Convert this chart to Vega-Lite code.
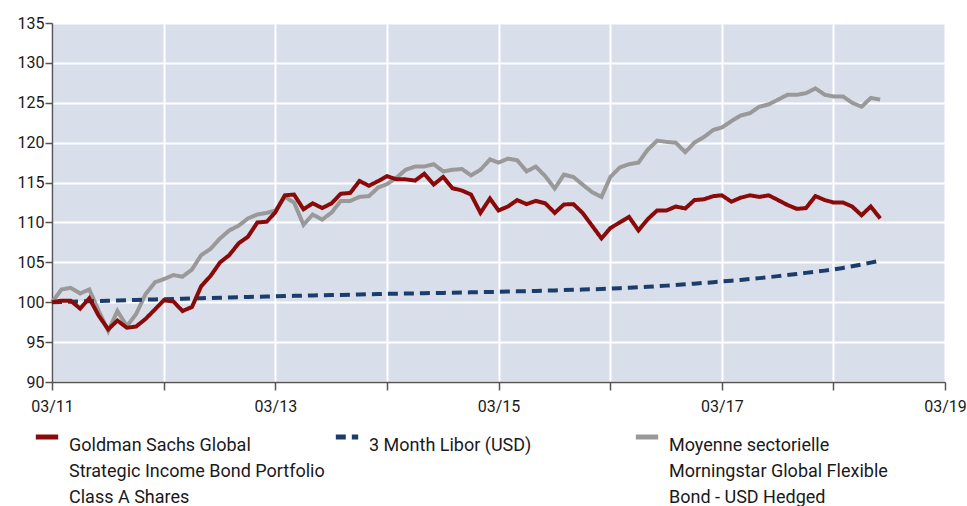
{
  "$schema": "https://vega.github.io/schema/vega-lite/v6.json",
  "width": 893,
  "height": 359,
  "autosize": {"type": "none"},
  "padding": {"left": 52, "top": 23, "right": 22, "bottom": 124},
  "background": "white",
  "config": {
    "view": {"fill": "#d9dfea", "stroke": null},
    "font": "Liberation Sans Narrow, Roboto, sans-serif",
    "axis": {
      "grid": true,
      "gridColor": "#ffffff",
      "gridWidth": 2,
      "domainColor": "#555555",
      "domainWidth": 1.5,
      "tickColor": "#555555",
      "tickWidth": 1.5,
      "tickSize": 8,
      "labelFontSize": 16,
      "labelColor": "#1a1a1a",
      "title": null
    },
    "style": {"guide-label": {"lineHeight": 26}}
  },
  "data": {
    "values": [
      {"d": "2011-03-01", "gs": 100.0, "lib": 100.00, "avg": 100.0},
      {"d": "2011-04-01", "gs": 100.2, "lib": 100.03, "avg": 101.6},
      {"d": "2011-05-01", "gs": 100.2, "lib": 100.06, "avg": 101.8},
      {"d": "2011-06-01", "gs": 99.2, "lib": 100.10, "avg": 101.1},
      {"d": "2011-07-01", "gs": 100.5, "lib": 100.13, "avg": 101.6},
      {"d": "2011-08-01", "gs": 98.3, "lib": 100.16, "avg": 98.9},
      {"d": "2011-09-01", "gs": 96.6, "lib": 100.19, "avg": 96.4},
      {"d": "2011-10-01", "gs": 97.7, "lib": 100.22, "avg": 98.9},
      {"d": "2011-11-01", "gs": 96.8, "lib": 100.25, "avg": 97.0},
      {"d": "2011-12-01", "gs": 96.95, "lib": 100.29, "avg": 98.5},
      {"d": "2012-01-01", "gs": 97.9, "lib": 100.32, "avg": 101.0},
      {"d": "2012-02-01", "gs": 99.1, "lib": 100.35, "avg": 102.5},
      {"d": "2012-03-01", "gs": 100.25, "lib": 100.38, "avg": 102.9},
      {"d": "2012-04-01", "gs": 100.1, "lib": 100.41, "avg": 103.4},
      {"d": "2012-05-01", "gs": 98.9, "lib": 100.44, "avg": 103.2},
      {"d": "2012-06-01", "gs": 99.4, "lib": 100.47, "avg": 104.1},
      {"d": "2012-07-01", "gs": 102.0, "lib": 100.50, "avg": 105.9},
      {"d": "2012-08-01", "gs": 103.3, "lib": 100.53, "avg": 106.7},
      {"d": "2012-09-01", "gs": 105.0, "lib": 100.56, "avg": 108.0},
      {"d": "2012-10-01", "gs": 105.9, "lib": 100.60, "avg": 109.0},
      {"d": "2012-11-01", "gs": 107.4, "lib": 100.63, "avg": 109.6},
      {"d": "2012-12-01", "gs": 108.2, "lib": 100.66, "avg": 110.5},
      {"d": "2013-01-01", "gs": 110.0, "lib": 100.69, "avg": 111.0},
      {"d": "2013-02-01", "gs": 110.1, "lib": 100.72, "avg": 111.2},
      {"d": "2013-03-01", "gs": 111.3, "lib": 100.75, "avg": 111.5},
      {"d": "2013-04-01", "gs": 113.4, "lib": 100.77, "avg": 113.2},
      {"d": "2013-05-01", "gs": 113.5, "lib": 100.80, "avg": 112.5},
      {"d": "2013-06-01", "gs": 111.65, "lib": 100.82, "avg": 109.7},
      {"d": "2013-07-01", "gs": 112.4, "lib": 100.85, "avg": 111.0},
      {"d": "2013-08-01", "gs": 111.8, "lib": 100.87, "avg": 110.35},
      {"d": "2013-09-01", "gs": 112.4, "lib": 100.90, "avg": 111.25},
      {"d": "2013-10-01", "gs": 113.6, "lib": 100.92, "avg": 112.7},
      {"d": "2013-11-01", "gs": 113.7, "lib": 100.95, "avg": 112.7},
      {"d": "2013-12-01", "gs": 115.2, "lib": 100.97, "avg": 113.2},
      {"d": "2014-01-01", "gs": 114.6, "lib": 101.00, "avg": 113.3},
      {"d": "2014-02-01", "gs": 115.2, "lib": 101.02, "avg": 114.4},
      {"d": "2014-03-01", "gs": 115.8, "lib": 101.05, "avg": 114.8},
      {"d": "2014-04-01", "gs": 115.4, "lib": 101.07, "avg": 115.6},
      {"d": "2014-05-01", "gs": 115.4, "lib": 101.09, "avg": 116.6},
      {"d": "2014-06-01", "gs": 115.25, "lib": 101.11, "avg": 117.0},
      {"d": "2014-07-01", "gs": 116.1, "lib": 101.13, "avg": 117.0},
      {"d": "2014-08-01", "gs": 114.75, "lib": 101.15, "avg": 117.3},
      {"d": "2014-09-01", "gs": 115.7, "lib": 101.17, "avg": 116.4},
      {"d": "2014-10-01", "gs": 114.3, "lib": 101.20, "avg": 116.6},
      {"d": "2014-11-01", "gs": 114.0, "lib": 101.22, "avg": 116.7},
      {"d": "2014-12-01", "gs": 113.5, "lib": 101.24, "avg": 115.9},
      {"d": "2015-01-01", "gs": 111.2, "lib": 101.26, "avg": 116.6},
      {"d": "2015-02-01", "gs": 113.0, "lib": 101.28, "avg": 117.9},
      {"d": "2015-03-01", "gs": 111.5, "lib": 101.30, "avg": 117.5},
      {"d": "2015-04-01", "gs": 112.0, "lib": 101.33, "avg": 118.0},
      {"d": "2015-05-01", "gs": 112.8, "lib": 101.36, "avg": 117.8},
      {"d": "2015-06-01", "gs": 112.3, "lib": 101.39, "avg": 116.4},
      {"d": "2015-07-01", "gs": 112.7, "lib": 101.42, "avg": 117.0},
      {"d": "2015-08-01", "gs": 112.4, "lib": 101.45, "avg": 115.8},
      {"d": "2015-09-01", "gs": 111.2, "lib": 101.48, "avg": 114.25},
      {"d": "2015-10-01", "gs": 112.25, "lib": 101.52, "avg": 116.0},
      {"d": "2015-11-01", "gs": 112.3, "lib": 101.55, "avg": 115.7},
      {"d": "2015-12-01", "gs": 111.2, "lib": 101.59, "avg": 114.75},
      {"d": "2016-01-01", "gs": 109.6, "lib": 101.62, "avg": 113.8},
      {"d": "2016-02-01", "gs": 108.0, "lib": 101.66, "avg": 113.2},
      {"d": "2016-03-01", "gs": 109.3, "lib": 101.70, "avg": 115.7},
      {"d": "2016-04-01", "gs": 110.0, "lib": 101.76, "avg": 116.9},
      {"d": "2016-05-01", "gs": 110.7, "lib": 101.82, "avg": 117.3},
      {"d": "2016-06-01", "gs": 109.0, "lib": 101.88, "avg": 117.5},
      {"d": "2016-07-01", "gs": 110.4, "lib": 101.94, "avg": 119.1},
      {"d": "2016-08-01", "gs": 111.5, "lib": 102.01, "avg": 120.25},
      {"d": "2016-09-01", "gs": 111.5, "lib": 102.08, "avg": 120.1},
      {"d": "2016-10-01", "gs": 112.0, "lib": 102.16, "avg": 120.0},
      {"d": "2016-11-01", "gs": 111.75, "lib": 102.24, "avg": 118.8},
      {"d": "2016-12-01", "gs": 112.8, "lib": 102.33, "avg": 120.0},
      {"d": "2017-01-01", "gs": 112.9, "lib": 102.42, "avg": 120.7},
      {"d": "2017-02-01", "gs": 113.3, "lib": 102.51, "avg": 121.6},
      {"d": "2017-03-01", "gs": 113.4, "lib": 102.60, "avg": 121.9},
      {"d": "2017-04-01", "gs": 112.6, "lib": 102.70, "avg": 122.7},
      {"d": "2017-05-01", "gs": 113.1, "lib": 102.80, "avg": 123.4},
      {"d": "2017-06-01", "gs": 113.4, "lib": 102.91, "avg": 123.7},
      {"d": "2017-07-01", "gs": 113.2, "lib": 103.02, "avg": 124.5},
      {"d": "2017-08-01", "gs": 113.4, "lib": 103.14, "avg": 124.8},
      {"d": "2017-09-01", "gs": 112.8, "lib": 103.27, "avg": 125.4},
      {"d": "2017-10-01", "gs": 112.2, "lib": 103.40, "avg": 126.0},
      {"d": "2017-11-01", "gs": 111.7, "lib": 103.54, "avg": 126.0},
      {"d": "2017-12-01", "gs": 111.8, "lib": 103.68, "avg": 126.2},
      {"d": "2018-01-01", "gs": 113.3, "lib": 103.82, "avg": 126.8},
      {"d": "2018-02-01", "gs": 112.8, "lib": 103.96, "avg": 126.0},
      {"d": "2018-03-01", "gs": 112.5, "lib": 104.10, "avg": 125.8},
      {"d": "2018-04-01", "gs": 112.5, "lib": 104.30, "avg": 125.8},
      {"d": "2018-05-01", "gs": 112.0, "lib": 104.51, "avg": 125.0},
      {"d": "2018-06-01", "gs": 110.9, "lib": 104.73, "avg": 124.5},
      {"d": "2018-07-01", "gs": 112.0, "lib": 104.96, "avg": 125.6},
      {"d": "2018-08-01", "gs": 110.5, "lib": 105.20, "avg": 125.4}
    ]
  },
  "transform": [{"fold": ["avg", "lib", "gs"], "as": ["key", "value"]}],
  "mark": {"type": "line", "strokeWidth": 4, "strokeJoin": "miter", "strokeCap": "butt"},
  "encoding": {
    "x": {
      "field": "d",
      "type": "temporal",
      "scale": {
        "type": "utc",
        "domain": [
          {"year": 2011, "month": 3, "date": 1, "utc": true},
          {"year": 2019, "month": 3, "date": 1, "utc": true}
        ]
      },
      "axis": {
        "values": [
          {"year": 2011, "month": 3, "date": 1, "utc": true},
          {"year": 2012, "month": 3, "date": 1, "utc": true},
          {"year": 2013, "month": 3, "date": 1, "utc": true},
          {"year": 2014, "month": 3, "date": 1, "utc": true},
          {"year": 2015, "month": 3, "date": 1, "utc": true},
          {"year": 2016, "month": 3, "date": 1, "utc": true},
          {"year": 2017, "month": 3, "date": 1, "utc": true},
          {"year": 2018, "month": 3, "date": 1, "utc": true},
          {"year": 2019, "month": 3, "date": 1, "utc": true}
        ],
        "labelExpr": "utcyear(datum.value) % 2 == 1 ? utcFormat(datum.value, '%m/%y') : ''",
        "labelPadding": 8,
        "labelFlush": false,
        "labelOverlap": false
      }
    },
    "y": {
      "field": "value",
      "type": "quantitative",
      "scale": {"domain": [90, 135], "nice": false, "zero": false},
      "axis": {
        "values": [90, 95, 100, 105, 110, 115, 120, 125, 130, 135],
        "tickSize": 7,
        "labelPadding": 1
      }
    },
    "color": {
      "field": "key",
      "type": "nominal",
      "scale": {"domain": ["gs", "lib", "avg"], "range": ["#8a0a0a", "#1c3d6c", "#999999"]},
      "legend": {
        "title": null,
        "orient": "none",
        "legendX": -19,
        "legendY": 400,
        "direction": "horizontal",
        "columns": 3,
        "gridAlign": "all",
        "columnPadding": 0,
        "symbolType": "stroke",
        "symbolSize": 500,
        "symbolStrokeWidth": 5,
        "labelFontSize": 18,
        "labelColor": "#1a1a1a",
        "labelLimit": 400,
        "labelOffset": 8,
        "labelBaseline": "top",
        "labelExpr": "datum.value == 'gs' ? ['Goldman Sachs Global', 'Strategic Income Bond Portfolio', 'Class A Shares'] : datum.value == 'lib' ? ['3 Month Libor (USD)', ' ', ' '] : ['Moyenne sectorielle', 'Morningstar Global Flexible', 'Bond - USD Hedged']"
      }
    },
    "strokeDash": {
      "field": "key",
      "type": "nominal",
      "scale": {"domain": ["gs", "lib", "avg"], "range": [[1, 0], [10, 6], [1, 0]]},
      "legend": {
        "title": null,
        "orient": "none",
        "legendX": -19,
        "legendY": 400,
        "direction": "horizontal",
        "columns": 3,
        "gridAlign": "all",
        "columnPadding": 0,
        "symbolType": "stroke",
        "symbolSize": 500,
        "symbolStrokeWidth": 5,
        "labelFontSize": 18,
        "labelColor": "#1a1a1a",
        "labelLimit": 400,
        "labelOffset": 8,
        "labelBaseline": "top",
        "labelExpr": "datum.value == 'gs' ? ['Goldman Sachs Global', 'Strategic Income Bond Portfolio', 'Class A Shares'] : datum.value == 'lib' ? ['3 Month Libor (USD)', ' ', ' '] : ['Moyenne sectorielle', 'Morningstar Global Flexible', 'Bond - USD Hedged']"
      }
    }
  }
}
